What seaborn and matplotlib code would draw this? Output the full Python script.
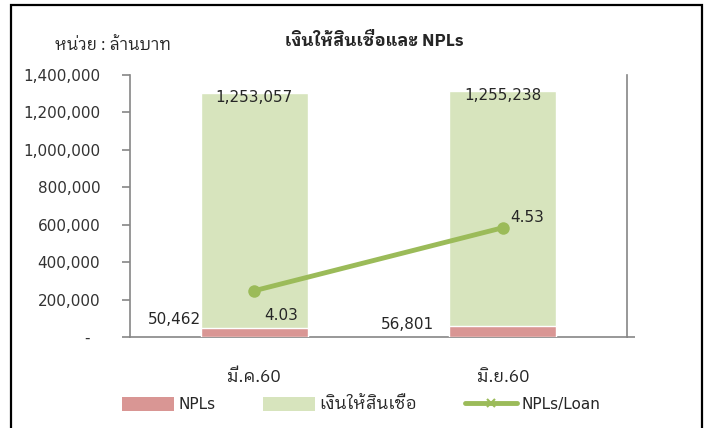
import matplotlib
matplotlib.use("Agg")
import numpy as np
import pandas as pd
import matplotlib.pyplot as plt
import seaborn as sns
from matplotlib import font_manager
from matplotlib.patches import Patch, Rectangle
from matplotlib.lines import Line2D
from matplotlib.ticker import FuncFormatter

# data
periods = ["มี.ค.60", "มิ.ย.60"]
npls = [50462, 56801]
loans = [1253057, 1255238]
npl_ratio = [4.03, 4.53]

series_names = ["NPLs", "เงินให้สินเชื่อ", "NPLs/Loan"]
title = "เงินให้สินเชื่อและ NPLs"
unit_note = "หน่วย : ล้านบาท"

# looped Thai face for Thai text, latin/digits stay in DejaVu Sans
installed = {f.name for f in font_manager.fontManager.ttflist}
thai_font = next((f for f in ["IBM Plex Sans Thai Looped", "Noto Sans Thai Looped",
                              "Noto Sans Thai", "Sarabun"]
                  if f in installed), "DejaVu Sans")
thai_family = [thai_font, "DejaVu Sans"]

sns.set_theme(style="white")
plt.rcParams["font.family"] = ["DejaVu Sans", thai_font]
plt.rcParams["text.color"] = "#262626"

pink = "#D99694"
green = "#D7E4BD"
line_green = "#9BBB59"
axis_gray = "#868686"

df = pd.DataFrame({"period": periods, "npl": npls, "loan": loans, "ratio": npl_ratio})
df["total"] = df["npl"] + df["loan"]
xpos = np.arange(len(df))

fig = plt.figure(figsize=(7.07, 4.28), dpi=100)
ax = fig.add_axes([130 / 707, 1 - 337 / 428, 497 / 707, 262 / 428])

# stacked bars: total in green, NPLs drawn over the bottom part
sns.barplot(data=df, x="period", y="total", color=green, width=0.43,
            saturation=1, ax=ax, zorder=2)
sns.barplot(data=df, x="period", y="npl", color=pink, width=0.43,
            saturation=1, ax=ax, zorder=3)

ax.set_xlim(-0.5, 1.5)
ax.set_ylim(0, 1400000)
ax.set_yticks(np.arange(0, 1400001, 200000))
ax.yaxis.set_major_formatter(FuncFormatter(lambda v, p: "-  " if v == 0 else f"{v:,.0f}"))
ax.set_xticks(xpos)
ax.set_xticklabels(df["period"], family=thai_family, fontsize=12.5)
ax.set_xticks([-0.5, 0.5, 1.5], minor=True)
ax.tick_params(axis="x", which="major", length=0, pad=23)
ax.tick_params(axis="x", which="minor", length=6, width=1.2, color=axis_gray, direction="out")
ax.tick_params(axis="y", length=6, width=1.2, color=axis_gray, direction="out",
               left=True, labelsize=11, pad=15.5, labelcolor="#333333")
ax.set_xlabel("")
ax.set_ylabel("")
for s in ["left", "bottom"]:
    ax.spines[s].set_color(axis_gray)
    ax.spines[s].set_linewidth(1.2)
ax.spines["top"].set_visible(False)
ax.spines["right"].set_visible(False)

# bar labels
for i, row in df.iterrows():
    ax.text(i, row["total"] - 22000, f"{row['loan']:,.0f}", ha="center", va="center",
            fontsize=11, zorder=5)
ax.text(-0.322, 91000, f"{npls[0]:,.0f}", ha="center", va="center", fontsize=11)
ax.text(1 - 0.384, 69000, f"{npls[1]:,.0f}", ha="center", va="center", fontsize=11)

# ratio line on a hidden secondary axis
ax2 = ax.twinx()
ax2.set_ylim(3.663, 5.742)
sns.lineplot(x=xpos, y=df["ratio"], ax=ax2, color=line_green, linewidth=3.5,
             marker="o", markersize=9, markeredgewidth=0, zorder=4)
ax2.set_ylabel("")
ax2.set_yticks([3.663])
ax2.set_yticklabels([""])
ax2.tick_params(axis="y", length=6, width=1.2, color=axis_gray, direction="out", right=True)
ax2.spines["right"].set_color(axis_gray)
ax2.spines["right"].set_linewidth(1.2)
for s in ["left", "top", "bottom"]:
    ax2.spines[s].set_visible(False)
ax2.set_xlim(-0.5, 1.5)
ax2.text(0.11, 3.83, f"{npl_ratio[0]:.2f}", ha="center", va="center", fontsize=11)
ax2.text(1.1, 4.61, f"{npl_ratio[1]:.2f}", ha="center", va="center", fontsize=11)

# title and unit note
fig.text(374 / 707, 1 - 40 / 428, title, ha="center", va="center", fontsize=12.3,
         fontweight="bold", family=thai_family)
fig.text(55 / 707, 1 - 45 / 428, unit_note, ha="left", va="center", fontsize=12,
         family=thai_family)

# legend
handles = [Patch(facecolor=pink, edgecolor="none"),
           Patch(facecolor=green, edgecolor="none"),
           Line2D([0], [0], color=line_green, linewidth=3.5, marker="x",
                  markersize=6, markeredgewidth=1.5)]
leg = fig.legend(handles, series_names, loc="center", bbox_to_anchor=(361 / 707, 1 - 404 / 428),
                 ncol=3, frameon=False, fontsize=11, handlelength=3.4, handleheight=1.0,
                 handletextpad=0.3, columnspacing=3.1)
leg.get_texts()[1].set_fontfamily(thai_family)
leg.get_texts()[1].set_fontsize(12.5)

# outer chart border
fig.patches.append(Rectangle((10.5 / 707, -0.05), (702 - 10.5) / 707, 1.05 - 5 / 428,
                             transform=fig.transFigure, fill=False,
                             edgecolor="black", linewidth=1.6))

fig.savefig("out.png", dpi=100)
